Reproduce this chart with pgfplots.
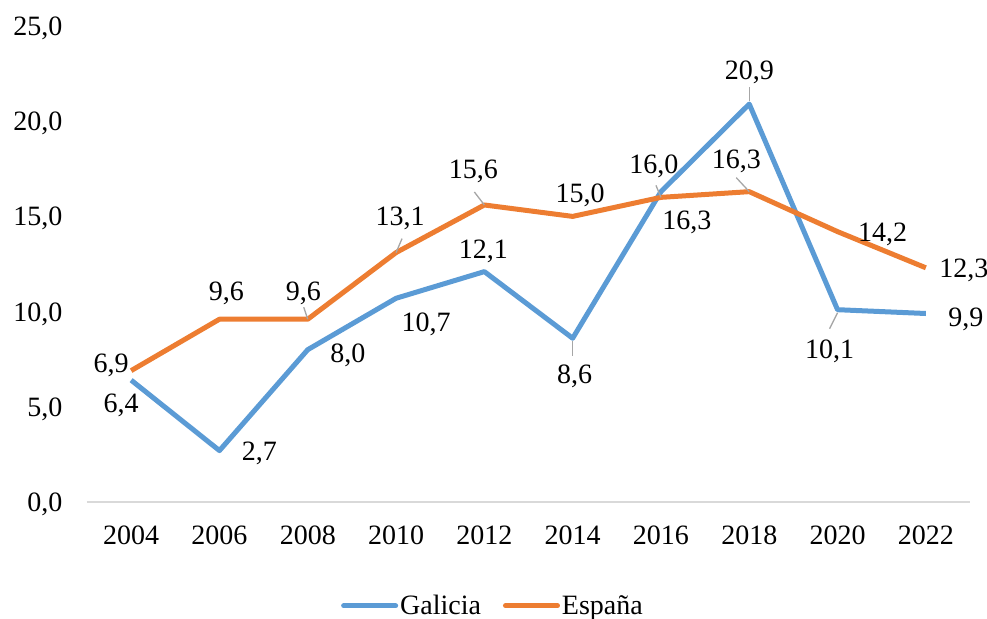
\documentclass[border=0pt]{standalone}
\usepackage{pgfplots}
\usepackage{pgfplotstable}
\pgfplotsset{compat=1.18}
\usepackage{fontspec}
\setmainfont{Liberation Serif}
\definecolor{galicia}{HTML}{5B9BD5}
\definecolor{espana}{HTML}{ED7D31}
\definecolor{leader}{HTML}{A6A6A6}
\definecolor{axisgray}{HTML}{D9D9D9}
\pgfplotstableread{
x y dx dy
2004 6.4 -10 -23
2006 2.7 40 0
2008 8.0 40 -3
2010 10.7 30 -24
2012 12.1 -1 23
2014 8.6 2 -36
2016 16.3 26 -28.5
2018 20.9 0 34.5
2020 10.1 -8 -39
2022 9.9 40 -3
}\galicia
\pgfplotstableread{
x y dx dy
2004 6.9 -20 7.5
2006 9.6 7 28.5
2008 9.6 -4.5 28.5
2010 13.1 4 37
2012 15.6 -11 36
2014 15.0 7.5 23.5
2016 16.0 -7 33
2018 16.3 -13 32.5
2020 14.2 45 0
2022 12.3 38 0
}\espana
\pgfplotsset{
  labelled/.style={
    point meta=y,
    nodes near coords={\pgfmathprintnumber[fixed,fixed zerofill,precision=1,use comma,assume math mode=true]{\pgfplotspointmeta}},
    visualization depends on={\thisrow{dx}\as\dx},
    visualization depends on={\thisrow{dy}\as\dy},
    nodes near coords style={anchor=center, inner sep=0pt, text height=19bp, text depth=0pt,
       xshift=\dx*1bp, yshift=\dy*1bp, text=black},
  }
}
\begin{document}
\begin{tikzpicture}[font=\fontsize{28bp}{33bp}\selectfont]
\useasboundingbox (-87bp,-117bp) rectangle (900bp,502bp);
\begin{axis}[
  at={(0,0)}, anchor=south west,
  scale only axis, width=883bp, height=476bp,
  xmin=2003, xmax=2023, ymin=0, ymax=25,
  clip=false,
  axis x line*=bottom, axis y line*=left,
  x axis line style={draw=axisgray, line width=1.3bp, -},
  y axis line style={draw=none},
  major tick length=0pt,
  xtick={2004,2006,...,2022}, ytick={0,5,...,25},
  /pgf/number format/assume math mode=true,
  x tick label style={/pgf/number format/1000 sep={}, anchor=center, inner sep=0pt,
     text height=19bp, text depth=0pt, yshift=-32.5bp},
  y tick label style={/pgf/number format/.cd, fixed, fixed zerofill, precision=1, use comma,
     /tikz/.cd, anchor=east, inner sep=0pt, text height=19bp, text depth=0pt, xshift=-24.5bp},
  legend columns=2,
  legend style={at={(axis description cs:0.4598,-0.2180)}, anchor=center, draw=none, fill=none,
     nodes={inner sep=2bp},
     /tikz/every even column/.append style={column sep=20bp}},
  legend image code/.code={\draw[#1, line width=5bp, line cap=round] (0bp,0bp) -- (52bp,0bp);},
]
\addplot[color=galicia, line width=5bp, line join=round, mark=none, labelled] table[x=x,y=y] {\galicia};
\addlegendentry{Galicia}
\addplot[color=espana, line width=5bp, line join=round, mark=none, labelled] table[x=x,y=y] {\espana};
\addlegendentry{España}
\begin{scope}[leader, line width=1.3bp]
\draw (axis cs:2008,9.6) -- ++(-4bp,12bp);
\draw (axis cs:2010,13.1) -- ++(6bp,14bp);
\draw (axis cs:2012,15.6) -- ++(-10bp,13bp);
\draw (axis cs:2016,16.0) -- ++(-5bp,12bp);
\draw (axis cs:2018,16.3) -- ++(-13bp,14bp);
\draw ([yshift=-3bp]axis cs:2014,8.6) -- ++(0bp,-15bp);
\draw ([yshift=3bp]axis cs:2018,20.9) -- ++(0bp,14bp);
\draw ([yshift=-3bp]axis cs:2020,10.1) -- ++(-8bp,-16bp);
\end{scope}
\end{axis}
\end{tikzpicture}
\end{document}
